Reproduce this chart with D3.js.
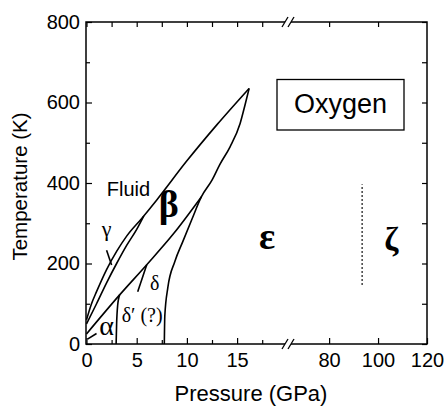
<!DOCTYPE html>
<html>
<head>
<meta charset="utf-8">
<script src="https://cdn.jsdelivr.net/npm/d3@7"></script>
<style>
  body { margin: 0; background: #fff; }
  svg { display: block; }
  .axis text { font-family: "Liberation Sans", Arial, sans-serif; font-size: 20px; fill: #000; }
  .axis line { stroke: #000; stroke-width: 1.2; }
  .axis path { display: none; }
  .curve { fill: none; stroke: #000; stroke-width: 1.6; }
  .phase { font-family: "Liberation Serif", "Times New Roman", serif; fill: #000; }
</style>
</head>
<body>
<script>
const yTicks = [0, 200, 400, 600, 800];
const yMinor = [100, 300, 500, 700];
const xLowTicks = [0, 5, 10, 15];
const xLowMinor = [2.5, 7.5, 12.5, 17.5];
const xHighTicks = [80, 100, 120];

// phase boundaries, [pressure GPa, temperature K]
const melting = [[0, 60], [0.5, 100], [1, 130], [2, 185], [3, 230], [4, 268], [5.5, 312], [7, 358], [10, 455], [13, 545], [16.2, 635]];
const gammaBeta = [[0, 50], [1, 100], [2, 152], [3, 200], [4, 245], [5, 285], [5.7, 318]];
const alphaBeta = [[0, 25], [3.3, 122], [6.0, 197], [8.7, 275], [11.45, 366]];
const alphaDelta = [[2.95, 0], [3.0, 50], [3.1, 95], [3.3, 122]];
const deltaPrime = [[5.1, 130], [6.0, 197]];
const epsilonLine = [[7.75, 0], [7.8, 70], [8.1, 140], [8.8, 205], [9.6, 255], [10.5, 310], [11.45, 366], [12.5, 407], [13.3, 447], [14.3, 490], [15.3, 548], [15.8, 595], [16.2, 635]];
const alphaPointer = [[0.1, 12], [1.0, 26]];
const gammaPointer = [[2.0, 233], [2.5, 196]];
const zetaBoundary = [[93.5, 147], [93.5, 397]];

const lowLabels = [
    { text: "Fluid", p: 4.18, t: 368, size: 20, serif: false, bold: false },
    { text: "γ", p: 2.0, t: 268, size: 22, serif: true, bold: false },
    { text: "β", p: 8.2, t: 316, size: 38, serif: true, bold: true },
    { text: "δ", p: 6.8, t: 134, size: 20, serif: true, bold: false },
    { text: "α", p: 2.0, t: 22, size: 28, serif: true, bold: false },
    { text: "ε", p: 18.0, t: 236, size: 38, serif: true, bold: true }
];
const highLabels = [
    { text: "ζ", p: 105.4, t: 233, size: 34, serif: true, bold: true }
];

const W = 446, H = 409;
const plotLeft = 86, plotRight = 427, plotTop = 22, plotBottom = 344, breakX = 288;

const svg = d3.select("body").append("svg")
    .attr("width", W)
    .attr("height", H)
    .attr("viewBox", `0 0 ${W} ${H}`);

const y = d3.scaleLinear().domain([0, 800]).range([plotBottom, plotTop]);
const xLow = d3.scaleLinear().domain([0, 20]).range([86.5, 287.3]);
const xHigh = d3.scaleLinear().domain([63.2, 120]).range([breakX, plotRight]);

function addAxis(axis, tx, ty) {
    return svg.append("g")
        .attr("class", "axis")
        .attr("transform", `translate(${tx},${ty})`)
        .call(axis);
}

// left / right
addAxis(d3.axisLeft(y).tickValues(yTicks).tickSize(-6).tickPadding(6), plotLeft, 0);
addAxis(d3.axisLeft(y).tickValues(yMinor).tickSize(-4).tickFormat(""), plotLeft, 0);
addAxis(d3.axisRight(y).tickValues(yTicks.concat(yMinor)).tickSize(-5).tickFormat(""), plotRight, 0);

// bottom / top, low segment
const xAxisLow = addAxis(d3.axisBottom(xLow).tickValues(xLowTicks).tickSize(-6).tickPadding(10), 0, plotBottom);
addAxis(d3.axisBottom(xLow).tickValues(xLowMinor).tickSize(-4).tickFormat(""), 0, plotBottom);
addAxis(d3.axisTop(xLow).tickValues(xLowTicks.concat(xLowMinor)).tickSize(-5).tickFormat(""), 0, plotTop);

// bottom / top, high segment
const xAxisHigh = addAxis(d3.axisBottom(xHigh).tickValues(xHighTicks).tickSize(-6).tickPadding(10), 0, plotBottom);
addAxis(d3.axisTop(xHigh).tickValues(xHighTicks.slice(0, 2)).tickSize(-5).tickFormat(""), 0, plotTop);

[xAxisLow, xAxisHigh].forEach(a => a.selectAll("text").attr("dy", null).attr("y", 23));

svg.append("rect")
    .attr("x", plotLeft)
    .attr("y", plotTop)
    .attr("width", plotRight - plotLeft)
    .attr("height", plotBottom - plotTop)
    .attr("fill", "none")
    .attr("stroke", "#000")
    .attr("stroke-width", 1.5);

// axis breaks
[plotTop, plotBottom].forEach(yy => {
    svg.append("rect")
        .attr("x", breakX - 3)
        .attr("y", yy - 2)
        .attr("width", 6)
        .attr("height", 4)
        .attr("fill", "#fff");
    [-3, 3].forEach(dx => {
        svg.append("line")
            .attr("x1", breakX + dx - 3).attr("y1", yy + 5)
            .attr("x2", breakX + dx + 3).attr("y2", yy - 5)
            .attr("stroke", "#000")
            .attr("stroke-width", 1.3);
    });
});

const lineLow = d3.line()
    .x(d => xLow(d[0]))
    .y(d => y(d[1]))
    .curve(d3.curveMonotoneX);

const plot = svg.append("g");
[melting, gammaBeta, alphaBeta, alphaDelta, deltaPrime, epsilonLine, alphaPointer, gammaPointer].forEach(c => {
    plot.append("path")
        .attr("class", "curve")
        .attr("d", lineLow(c));
});

plot.append("line")
    .attr("x1", xHigh(zetaBoundary[0][0]))
    .attr("y1", y(zetaBoundary[0][1]))
    .attr("x2", xHigh(zetaBoundary[1][0]))
    .attr("y2", y(zetaBoundary[1][1]))
    .attr("stroke", "#000")
    .attr("stroke-width", 1.5)
    .attr("stroke-dasharray", "1.5,2.5");

function drawLabels(labels, xs) {
    plot.selectAll(null)
        .data(labels)
        .enter()
        .append("text")
        .attr("class", "phase")
        .attr("x", d => xs(d.p))
        .attr("y", d => y(d.t))
        .attr("text-anchor", "middle")
        .style("font-size", d => d.size + "px")
        .style("font-weight", d => d.bold ? "bold" : "normal")
        .style("font-family", d => d.serif ? null : "'Liberation Sans', Arial, sans-serif")
        .text(d => d.text);
}
drawLabels(lowLabels, xLow);
drawLabels(highLabels, xHigh);

plot.append("text")
    .attr("class", "phase")
    .attr("x", xLow(3.5))
    .attr("y", y(55))
    .style("font-size", "20px")
    .text("δ′ (?)");

// Oxygen label box
svg.append("rect")
    .attr("x", 277)
    .attr("y", 79.5)
    .attr("width", 127)
    .attr("height", 50.5)
    .attr("fill", "#fff")
    .attr("stroke", "#000")
    .attr("stroke-width", 1.3);

svg.append("text")
    .attr("x", 340.5)
    .attr("y", 112.5)
    .attr("text-anchor", "middle")
    .style("font-family", "'Liberation Sans', Arial, sans-serif")
    .style("font-size", "27px")
    .text("Oxygen");

// axis titles
svg.append("text")
    .attr("x", 251)
    .attr("y", 401)
    .attr("text-anchor", "middle")
    .style("font-family", "'Liberation Sans', Arial, sans-serif")
    .style("font-size", "22px")
    .text("Pressure (GPa)");

svg.append("text")
    .attr("transform", "translate(26.5,186.5) rotate(-90)")
    .attr("text-anchor", "middle")
    .style("font-family", "'Liberation Sans', Arial, sans-serif")
    .style("font-size", "20.5px")
    .text("Temperature (K)");
</script>
</body>
</html>
